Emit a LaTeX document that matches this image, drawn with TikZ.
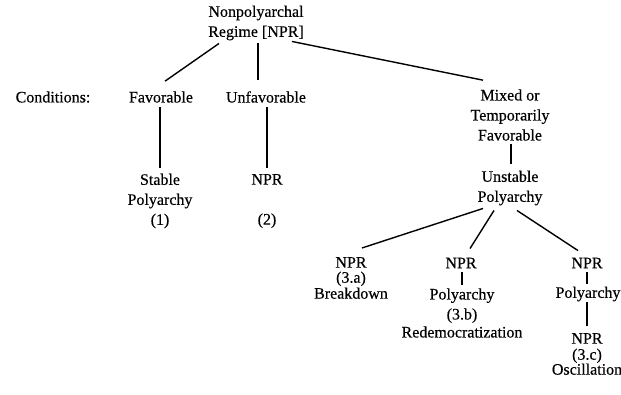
\documentclass[tikz,border=0pt]{standalone}
\usepackage{fontspec}
\setmainfont{Liberation Serif}[FakeBold=0.4]
\tikzset{
  label/.style={align=center,inner sep=1pt,font=\fontsize{16}{20}\selectfont},
  link/.style={line width=1.4pt}
}

\begin{document}
\begin{tikzpicture}[x=1pt,y=-1pt]
  \useasboundingbox (0,0) rectangle (621,395);
  % top of the tree
  \node [label] (root) at (256,23) {Nonpolyarchal\\Regime [NPR]};
  \node [label] (cond) at (53,97) {Conditions:};
  \node [label] (fav) at (161,97) {Favorable};
  \node [label] (unfav) at (266,97) {Unfavorable};
  \node [label] (mixed) at (510,115) {Mixed or\\Temporarily\\Favorable};
  % outcomes
  \node [label] (stable) at (160,201) {Stable\\Polyarchy\\(1)};
  \node [label] (npr) at (267,201) {NPR\\[20pt](2)};
  \node [label] (unstable) at (510,188) {Unstable\\Polyarchy};
  \node [label] (npra) at (351,278) {NPR\\[-5pt](3.a)\\[-4pt]Breakdown};
  \node [label] (nprb) at (461,263) {NPR};
  \node [label] (polyb) at (462,313) {Polyarchy\\(3.b)\\[-2pt]Redemocratization};
  \node [label] (nprc) at (587,263) {NPR};
  \node [label] (polyc) at (588,294) {Polyarchy};
  \node [label] (nprcc) at (587,354) {NPR\\[-4pt](3.c)\\[-5pt]Oscillation};
  % connectors
  \draw [link] ([shift={(-37,2)}]root.south) -- ([shift={(4,-9)}]fav.north);
  \draw [link] ([shift={(2,2)}]root.south) -- ([shift={(-8,-10)}]unfav.north);
  \draw [link] ([shift={(36,0)}]root.south) -- ([shift={(-27,-8)}]mixed.north);
  \draw [link] ([shift={(-1,3)}]fav.south) -- ([shift={(0,-5)}]stable.north);
  \draw [link] ([shift={(1,3)}]unfav.south) -- ([shift={(0,-5)}]npr.north);
  \draw [link] ([shift={(1,2)}]mixed.south) -- ([shift={(1,-6)}]unstable.north);
  \draw [link] ([shift={(-27,2)}]unstable.south) -- ([shift={(11,-8)}]npra.north);
  \draw [link] ([shift={(-16,4)}]unstable.south) -- ([shift={(9,-8)}]nprb.north);
  \draw [link] ([shift={(7,4)}]unstable.south) -- ([shift={(-9,-6)}]nprc.north);
  \draw [link] ([shift={(1,3)}]nprb.south) -- ([shift={(0,-2)}]polyb.north);
  \draw [link] ([shift={(0,3)}]nprc.south) -- ([shift={(-1,-2)}]polyc.north);
  \draw [link] ([shift={(-1,0)}]polyc.south) -- ([shift={(0,-6)}]nprcc.north);
\end{tikzpicture}
\end{document}
